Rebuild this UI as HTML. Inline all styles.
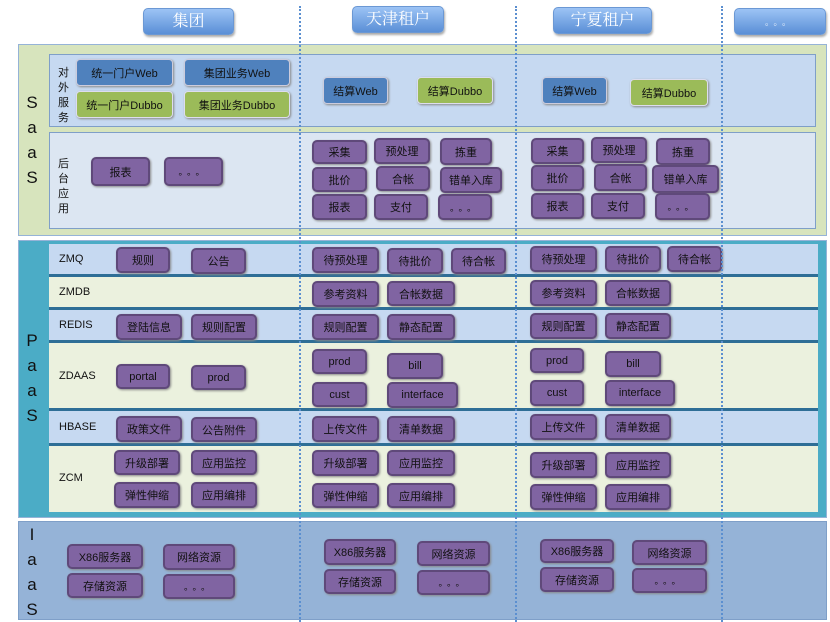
<!DOCTYPE html>
<html><head><meta charset="utf-8"><style>
*{margin:0;padding:0;box-sizing:border-box}
body{width:830px;height:622px;background:#fff;position:relative;overflow:hidden;font-family:"Liberation Sans","Noto Sans CJK SC",sans-serif;font-size:11px;color:#111}
div{position:absolute}
.h{background:linear-gradient(#9cc3f5,#5a8fd6);border:1px solid #6b98d4;border-radius:5px;color:#fff;font-family:"Liberation Serif","Noto Serif CJK SC",serif;font-size:16px;text-align:center;line-height:26px;box-shadow:1px 2px 2px #aaa}
.p{background:#8064a2;border:2px solid #5f497a;border-radius:5px;text-align:center;display:flex;align-items:center;justify-content:center;box-shadow:1px 1px 2px #888}
.bl{background:#4f81bd;border:1px solid #ccd;border-radius:4px;display:flex;align-items:center;justify-content:center;box-shadow:1px 1px 2px #888}
.gr{background:#9bbb59;border:1px solid #dde;border-radius:4px;display:flex;align-items:center;justify-content:center;box-shadow:1px 1px 2px #888}
.v{border-left:2px dotted #5b8fd0;top:6px;height:616px;width:0;z-index:5}
.L{font-size:17px;left:25px;width:14px;text-align:center;line-height:25px}
.lab{left:58px;width:14px;font-size:11px;line-height:15px}
.rl{left:59px;font-size:11px}
.row{left:49px;width:769px;border-bottom:3px solid #2e6e96}
.B{background:#c6d9f1}.G{background:#ebf1de}
.e{letter-spacing:4px;font-size:9px}
</style></head><body>
<div class="h" style="left:143px;top:8px;width:91px;height:27px">集团</div>
<div class="h" style="left:352px;top:6px;width:92px;height:27px">天津租户</div>
<div class="h" style="left:553px;top:7px;width:99px;height:27px">宁夏租户</div>
<div class="h e" style="left:734px;top:8px;width:92px;height:27px">。。。</div>

<!-- SaaS -->
<div style="left:18px;top:44px;width:809px;height:192px;background:#d7e4bd;border:1px solid #95b3d7"></div>
<div style="left:49px;top:54px;width:767px;height:73px;background:#c6d9f1;border:1px solid #7f9fc8"></div>
<div style="left:49px;top:132px;width:767px;height:97px;background:#dce6f2;border:1px solid #7f9fc8"></div>
<div class="L" style="top:90px">S<br>a<br>a<br>S</div>
<div class="lab" style="top:66px">对外服务</div>
<div class="lab" style="top:157px">后台应用</div>
<div class="bl" style="left:76px;top:59px;width:97px;height:27px">统一门户Web</div>
<div class="bl" style="left:184px;top:59px;width:106px;height:27px">集团业务Web</div>
<div class="gr" style="left:76px;top:91px;width:97px;height:27px">统一门户Dubbo</div>
<div class="gr" style="left:184px;top:91px;width:106px;height:27px">集团业务Dubbo</div>
<div class="bl" style="left:323px;top:77px;width:65px;height:27px">结算Web</div>
<div class="gr" style="left:417px;top:77px;width:76px;height:27px">结算Dubbo</div>
<div class="bl" style="left:542px;top:77px;width:65px;height:27px">结算Web</div>
<div class="gr" style="left:630px;top:79px;width:78px;height:27px">结算Dubbo</div>

<div class="p" style="left:91px;top:157px;width:59px;height:29px">报表</div>
<div class="p e" style="left:164px;top:157px;width:59px;height:29px">。。。</div>
<div class="p" style="left:312px;top:140px;width:55px;height:24px">采集</div>
<div class="p" style="left:374px;top:138px;width:56px;height:26px">预处理</div>
<div class="p" style="left:440px;top:138px;width:52px;height:27px">拣重</div>
<div class="p" style="left:312px;top:167px;width:55px;height:25px">批价</div>
<div class="p" style="left:376px;top:166px;width:54px;height:25px">合帐</div>
<div class="p" style="left:440px;top:167px;width:62px;height:26px">错单入库</div>
<div class="p" style="left:312px;top:194px;width:55px;height:26px">报表</div>
<div class="p" style="left:374px;top:194px;width:54px;height:26px">支付</div>
<div class="p e" style="left:438px;top:194px;width:54px;height:26px">。。。</div>
<div class="p" style="left:531px;top:138px;width:53px;height:26px">采集</div>
<div class="p" style="left:591px;top:137px;width:56px;height:26px">预处理</div>
<div class="p" style="left:656px;top:138px;width:54px;height:27px">拣重</div>
<div class="p" style="left:531px;top:165px;width:53px;height:26px">批价</div>
<div class="p" style="left:594px;top:164px;width:53px;height:27px">合帐</div>
<div class="p" style="left:652px;top:165px;width:67px;height:28px">错单入库</div>
<div class="p" style="left:531px;top:193px;width:53px;height:26px">报表</div>
<div class="p" style="left:591px;top:193px;width:54px;height:26px">支付</div>
<div class="p e" style="left:655px;top:193px;width:55px;height:27px">。。。</div>

<!-- PaaS -->
<div style="left:18px;top:240px;width:809px;height:278px;background:#4bacc6;border:1px solid #95b3d7"></div>
<div class="row B" style="top:244px;height:33px"></div>
<div class="row G" style="top:277px;height:33px"></div>
<div class="row B" style="top:310px;height:33px"></div>
<div class="row G" style="top:343px;height:68px"></div>
<div class="row B" style="top:411px;height:35px"></div>
<div class="row G" style="top:446px;height:66px;border-bottom:none"></div>
<div class="L" style="top:328px">P<br>a<br>a<br>S</div>
<div class="rl" style="top:253px">ZMQ</div>
<div class="rl" style="top:286px">ZMDB</div>
<div class="rl" style="top:319px">REDIS</div>
<div class="rl" style="top:370px">ZDAAS</div>
<div class="rl" style="top:421px">HBASE</div>
<div class="rl" style="top:472px">ZCM</div>

<div class="p" style="left:116px;top:247px;width:54px;height:26px">规则</div>
<div class="p" style="left:191px;top:248px;width:55px;height:26px">公告</div>
<div class="p" style="left:312px;top:247px;width:67px;height:26px">待预处理</div>
<div class="p" style="left:387px;top:248px;width:56px;height:26px">待批价</div>
<div class="p" style="left:451px;top:248px;width:55px;height:26px">待合帐</div>
<div class="p" style="left:530px;top:246px;width:67px;height:26px">待预处理</div>
<div class="p" style="left:605px;top:246px;width:56px;height:26px">待批价</div>
<div class="p" style="left:667px;top:246px;width:55px;height:26px">待合帐</div>

<div class="p" style="left:312px;top:281px;width:67px;height:26px">参考资料</div>
<div class="p" style="left:387px;top:281px;width:68px;height:25px">合帐数据</div>
<div class="p" style="left:530px;top:280px;width:67px;height:26px">参考资料</div>
<div class="p" style="left:605px;top:280px;width:66px;height:26px">合帐数据</div>

<div class="p" style="left:116px;top:314px;width:66px;height:26px">登陆信息</div>
<div class="p" style="left:191px;top:314px;width:66px;height:26px">规则配置</div>
<div class="p" style="left:312px;top:314px;width:67px;height:26px">规则配置</div>
<div class="p" style="left:387px;top:314px;width:68px;height:26px">静态配置</div>
<div class="p" style="left:530px;top:313px;width:67px;height:26px">规则配置</div>
<div class="p" style="left:605px;top:313px;width:66px;height:26px">静态配置</div>

<div class="p" style="left:116px;top:364px;width:54px;height:25px">portal</div>
<div class="p" style="left:191px;top:365px;width:55px;height:25px">prod</div>
<div class="p" style="left:312px;top:349px;width:55px;height:25px">prod</div>
<div class="p" style="left:387px;top:353px;width:56px;height:26px">bill</div>
<div class="p" style="left:312px;top:382px;width:55px;height:25px">cust</div>
<div class="p" style="left:387px;top:382px;width:71px;height:26px">interface</div>
<div class="p" style="left:530px;top:348px;width:54px;height:25px">prod</div>
<div class="p" style="left:605px;top:351px;width:56px;height:26px">bill</div>
<div class="p" style="left:530px;top:380px;width:54px;height:26px">cust</div>
<div class="p" style="left:605px;top:380px;width:70px;height:26px">interface</div>

<div class="p" style="left:116px;top:416px;width:66px;height:26px">政策文件</div>
<div class="p" style="left:191px;top:417px;width:66px;height:25px">公告附件</div>
<div class="p" style="left:312px;top:416px;width:67px;height:26px">上传文件</div>
<div class="p" style="left:387px;top:416px;width:68px;height:26px">清单数据</div>
<div class="p" style="left:530px;top:414px;width:67px;height:26px">上传文件</div>
<div class="p" style="left:605px;top:414px;width:66px;height:26px">清单数据</div>

<div class="p" style="left:114px;top:450px;width:66px;height:25px">升级部署</div>
<div class="p" style="left:191px;top:450px;width:66px;height:25px">应用监控</div>
<div class="p" style="left:114px;top:482px;width:66px;height:26px">弹性伸缩</div>
<div class="p" style="left:191px;top:482px;width:66px;height:26px">应用编排</div>
<div class="p" style="left:312px;top:450px;width:67px;height:26px">升级部署</div>
<div class="p" style="left:387px;top:450px;width:68px;height:26px">应用监控</div>
<div class="p" style="left:312px;top:483px;width:67px;height:25px">弹性伸缩</div>
<div class="p" style="left:387px;top:483px;width:68px;height:25px">应用编排</div>
<div class="p" style="left:530px;top:452px;width:67px;height:26px">升级部署</div>
<div class="p" style="left:605px;top:452px;width:66px;height:26px">应用监控</div>
<div class="p" style="left:530px;top:484px;width:67px;height:26px">弹性伸缩</div>
<div class="p" style="left:605px;top:484px;width:66px;height:26px">应用编排</div>

<!-- IaaS -->
<div style="left:18px;top:521px;width:809px;height:99px;background:#95b3d7;border:1px solid #7f9fc8"></div>
<div class="L" style="top:522px">I<br>a<br>a<br>S</div>
<div class="p" style="left:67px;top:544px;width:76px;height:25px">X86服务器</div>
<div class="p" style="left:163px;top:544px;width:72px;height:26px">网络资源</div>
<div class="p" style="left:67px;top:573px;width:76px;height:25px">存储资源</div>
<div class="p e" style="left:163px;top:574px;width:72px;height:25px">。。。</div>
<div class="p" style="left:324px;top:539px;width:72px;height:26px">X86服务器</div>
<div class="p" style="left:417px;top:541px;width:73px;height:25px">网络资源</div>
<div class="p" style="left:324px;top:569px;width:72px;height:25px">存储资源</div>
<div class="p e" style="left:417px;top:570px;width:73px;height:25px">。。。</div>
<div class="p" style="left:540px;top:539px;width:74px;height:24px">X86服务器</div>
<div class="p" style="left:632px;top:540px;width:75px;height:25px">网络资源</div>
<div class="p" style="left:540px;top:567px;width:74px;height:25px">存储资源</div>
<div class="p e" style="left:632px;top:568px;width:75px;height:25px">。。。</div>

<div class="v" style="left:299px"></div>
<div class="v" style="left:515px"></div>
<div class="v" style="left:721px"></div>
</body></html>
